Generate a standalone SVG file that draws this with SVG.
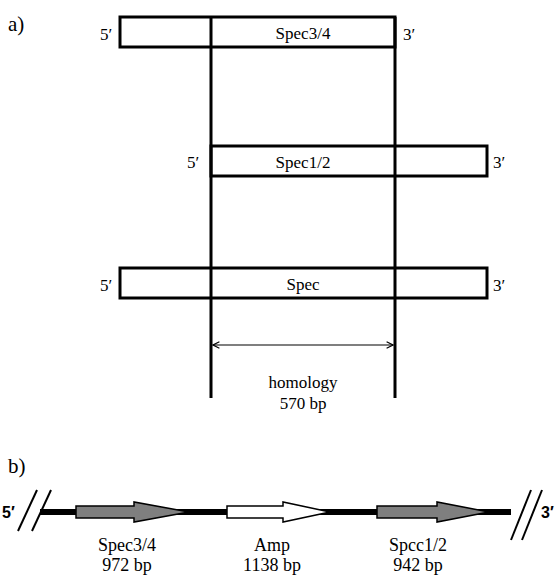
<svg xmlns="http://www.w3.org/2000/svg" width="555" height="575" viewBox="0 0 555 575">
<style>
.box{fill:#fff;stroke:#000;stroke-width:3}
.t{font-family:"Liberation Serif","Times New Roman",serif;fill:#000}
.s{font-size:17px}
.b{font-size:18px}
.end{font-family:"Liberation Sans",Arial,sans-serif;font-weight:bold;font-size:16px}
.vl{stroke:#000;stroke-width:3;fill:none}
.garr{fill:#7f7f7f;stroke:#000;stroke-width:1.5}
.warr{fill:#fff;stroke:#000;stroke-width:1.5}
</style>
<defs>
<marker id="ah" viewBox="0 0 10 10" refX="9" refY="5" markerWidth="8" markerHeight="8" orient="auto-start-reverse" markerUnits="userSpaceOnUse">
<path d="M1,1 L9,5 L1,9" fill="none" stroke="#000" stroke-width="1.5"/>
</marker>
</defs>
<rect width="555" height="575" fill="#fff"/>
<text class="t" x="8" y="31" font-size="21">a)</text>
<text class="t" x="8" y="473" font-size="21">b)</text>

<g id="spec34">
<rect class="box" x="120" y="17" width="275" height="30"/>
<text class="t s" x="303" y="39" text-anchor="middle">Spec3/4</text>
<text class="t s" x="100" y="40">5′</text>
<text class="t s" x="403" y="40">3′</text>
</g>
<g id="spec12">
<rect class="box" x="211" y="146" width="276" height="30"/>
<text class="t s" x="303" y="168" text-anchor="middle">Spec1/2</text>
<text class="t s" x="187" y="168">5′</text>
<text class="t s" x="493" y="168">3′</text>
</g>
<g id="spec">
<rect class="box" x="120" y="268" width="367" height="30"/>
<text class="t s" x="303" y="290" text-anchor="middle">Spec</text>
<text class="t s" x="100" y="291">5′</text>
<text class="t s" x="493" y="291">3′</text>
</g>

<g id="connectors">
<line class="vl" x1="211" y1="17" x2="211" y2="398"/>
<line class="vl" x1="395" y1="17" x2="395" y2="398"/>
<line x1="213" y1="345" x2="393" y2="345" stroke="#000" stroke-width="1.2" marker-start="url(#ah)" marker-end="url(#ah)"/>
</g>
<g id="homology">
<text class="t s" x="303" y="388" text-anchor="middle">homology</text>
<text class="t s" x="303" y="409" text-anchor="middle">570 bp</text>
</g>

<g id="construct">
<line x1="40" y1="512" x2="511" y2="512" stroke="#000" stroke-width="6"/>
<line x1="37" y1="490" x2="18" y2="531" stroke="#000" stroke-width="2"/>
<line x1="51" y1="490" x2="32" y2="531" stroke="#000" stroke-width="2"/>
<line x1="531" y1="490" x2="511" y2="540" stroke="#000" stroke-width="2"/>
<line x1="542" y1="490" x2="522" y2="540" stroke="#000" stroke-width="2"/>
<text class="end" x="2" y="518">5′</text>
<text class="end" x="541" y="518">3′</text>
</g>
<g id="arr-spec34">
<polygon class="garr" points="76,506 134,506 134,502 189,512 134,522 134,518 76,518"/>
<text class="t b" x="127" y="551" text-anchor="middle">Spec3/4</text>
<text class="t b" x="127" y="571" text-anchor="middle">972 bp</text>
</g>
<g id="arr-amp">
<polygon class="warr" points="227,506 283,506 283,502 330,512 283,522 283,518 227,518"/>
<text class="t b" x="272" y="551" text-anchor="middle">Amp</text>
<text class="t b" x="272" y="571" text-anchor="middle">1138 bp</text>
</g>
<g id="arr-spec12">
<polygon class="garr" points="377,506 437,506 437,502 489,512 437,522 437,518 377,518"/>
<text class="t b" x="418" y="551" text-anchor="middle">Spcc1/2</text>
<text class="t b" x="418" y="571" text-anchor="middle">942 bp</text>
</g>
</svg>
